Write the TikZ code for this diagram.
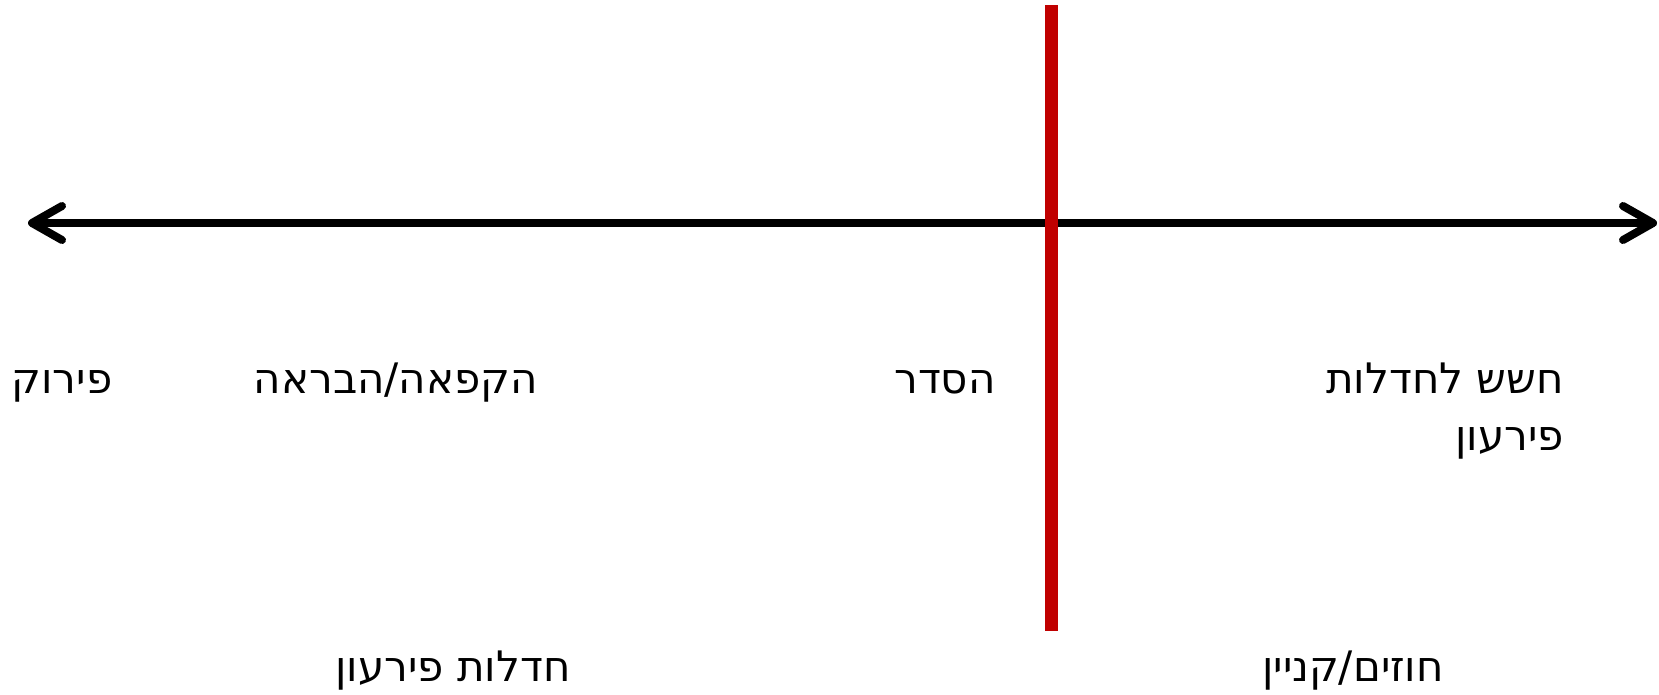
\documentclass[tikz,border=0pt]{standalone}
\usepackage{fontspec}
\usetikzlibrary{arrows.meta}
\TeXXeTstate=1
\newfontfamily\hebfont[Script=Hebrew]{DejaVu Sans}
\definecolor{cutred}{RGB}{192,0,0}

\begin{document}
\begin{tikzpicture}[x=1pt, y=-1pt,
axis/.style={line width=8pt,
  {Straight Barb[length=30pt,width=34pt,round]}-{Straight Barb[length=30pt,width=34pt,round]}},
cut/.style={cutred, line width=13pt},
lbl/.style={font=\hebfont\fontsize{42}{57}\selectfont, inner sep=0pt, anchor=base}]
\useasboundingbox (0,0) rectangle (1659,694);

% Draw the time axis
\coordinate (axL) at (28,223);
\coordinate (axR) at (1657,223);
\draw[axis] (axL) -- (axR);

% Draw the red cut line
\coordinate (cutT) at (1051,5);
\coordinate (cutB) at (1051,631);
\draw[cut] (cutT) -- (cutB);

% Labels along the axis
\node[lbl] (piruk) at (62,393) {\beginR פירוק\endR};
\node[lbl] (hakpaa) at (396,393) {\beginR הקפאה/הבראה\endR};
\node[lbl] (hesder) at (945,393) {\beginR הסדר\endR};
% (base anchor sits on the last line here)
\node[lbl, anchor=base east, align=right] (hashash) at (1564,450)
  {\beginR חשש לחדלות\endR\\ \beginR פירעון\endR};

% Labels below, on each side of the cut
\node[lbl] (hadlut) at (453,681) {\beginR חדלות פירעון\endR};
\node[lbl] (hozim) at (1353,681) {\beginR חוזים/קניין\endR};

\end{tikzpicture}
\end{document}
